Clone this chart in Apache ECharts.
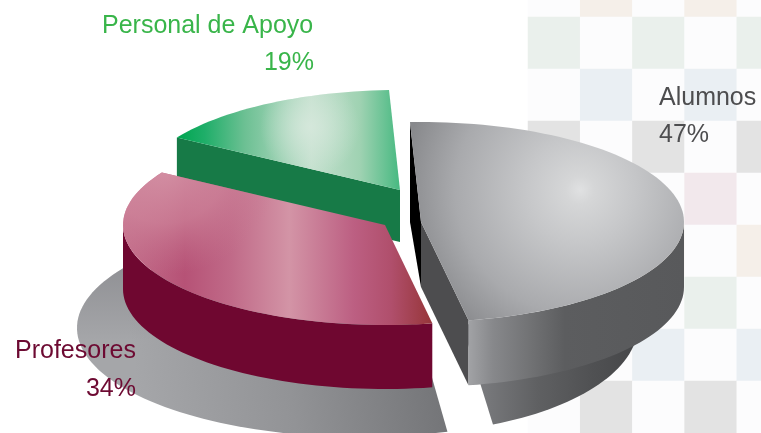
<!DOCTYPE html>
<html>
<head>
<meta charset="utf-8">
<style>html,body{margin:0;padding:0;background:#fff;}#main{width:761px;height:433px;}</style>
<script src="https://cdn.jsdelivr.net/npm/echarts@6/dist/echarts.min.js"></script>
</head>
<body>
<div id="main"></div>
<script>
//categorias y porcentajes impresos
var categories = ["Alumnos", "Profesores", "Personal de Apoyo"];
var percents = [47, 34, 19];
//angulo que ocupa cada sector en el dibujo (leido de la imagen, no es proporcional al porcentaje impreso)
var drawnSweeps = [172, 132, 56];
//fondo de cuadros: una letra por celda
var tileRows = [
	".p.p.",
	"g.g.g",
	".b.b.",
	"k.k.k",
	".r.r.",
	"p.p.p",
	".g.g.",
	"b.b.b",
	".k.k."
];

var tileColors = {".": "#fcfcfd", p: "#f5efe9", g: "#eaf0ec", b: "#eaeff3", k: "#e3e3e3", r: "#f2e8ec"};
var startAngle = -92.4;
var LG = echarts.graphic.LinearGradient;
var RG = echarts.graphic.RadialGradient;

function stops(list) {
	return list.map(function(s) {
		return {offset: s[0], color: s[1]};
	});
}
function ring(e, t1, t2, dy) {
	var pts = [];
	var n = Math.max(2, Math.ceil(Math.abs(t2 - t1) / 2));
	for (var i = 0; i <= n; i++) {
		var t = (t1 + (t2 - t1) * i / n) * Math.PI / 180;
		pts.push([e.cx + e.a * Math.cos(t), e.cy + e.b * Math.sin(t) + (dy || 0)]);
	}
	return pts;
}
function poly(points, fill, z2) {
	return {type: "polygon", z2: z2, shape: {points: points}, style: {fill: fill}};
}
function label(x, y, str, align, color, z2) {
	return {type: "text", z2: z2, x: x, y: y, style: {text: str, fill: color, align: align, verticalAlign: "middle", font: '25px "Liberation Sans"'}};
}

//posicion, relieve y color de cada sector
var sliceStyle = [
	{
		cx: 421, cy: 222, a: 263, b: 100, depth: 65, z2: 3,
		top: [new RG(580, 190, 178, stops([[0, "#e0e1e2"], [0.08, "#d5d6d7"], [0.3, "#c6c7c9"], [0.7, "#a9aaad"], [1, "#88898c"]]), true)],
		side: new LG(467, 0, 684, 0, stops([[0, "#a3a4a7"], [0.12, "#87888b"], [0.3, "#707173"], [0.45, "#5c5d5f"], [1, "#58595b"]]), true),
		startFace: "#000000", endFace: "#4d4d4f", backDrop: 100,
		text: [[659, 98.5, "left"], [659, 135.5, "left"]], color: "#4d4d4f"
	},
	{
		cx: 385, cy: 225, a: 262, b: 100, depth: 64, z2: 2,
		top: [
			new LG(123, 0, 431, 0, stops([[0, "#c4708c"], [0.2, "#b65276"], [0.35, "#c06a88"], [0.54, "#d394a6"], [0.75, "#bc5f82"], [0.87, "#b04f6c"], [1, "#97363a"]]), true),
			new RG(165, 160, 115, stops([[0, "rgba(214,150,168,0.95)"], [0.55, "rgba(210,140,160,0.6)"], [1, "rgba(200,120,145,0)"]]), true)
		],
		side: "#6f0730",
		text: [[15, 351, "left"], [136, 389.5, "right"]], color: "#6d0a32"
	},
	{
		cx: 400, cy: 190, a: 262, b: 100, depth: 52, z2: 1,
		top: [
			new LG(178, 0, 400, 0, stops([[0, "#00a651"], [0.12, "#1fae69"], [0.3, "#6cc093"], [0.6, "#c4e0ce"], [0.82, "#9fd2b2"], [1, "#47b981"]]), true),
			new RG(310, 127, 50, stops([[0, "rgba(214,232,220,0.9)"], [1, "rgba(214,232,220,0)"]]), true)
		],
		side: "#177a47", startFace: "#177a47", endFace: null, backDrop: 52,
		text: [[102, 26, "left"], [314, 63, "right"]], color: "#39b54a"
	}
];

function renderSlice(params, api) {
	var i = params.dataIndex;
	var e = sliceStyle[i];
	var t1 = startAngle;
	for (var k = 0; k < i; k++) t1 += drawnSweeps[k];
	var t2 = t1 + api.value(0);
	var c = [e.cx, e.cy];
	var arc = ring(e, t1, t2, 0);
	var first = arc[0], last = arc[arc.length - 1];
	var kids = [];
	//cara radial inicial
	if (e.startFace) {
		kids.push(poly([first, c, [c[0], c[1] + e.depth], [first[0], first[1] + e.backDrop]], e.startFace, e.z2));
	}
	//cara radial final
	if (e.endFace) {
		kids.push(poly([c, last, [last[0], last[1] + e.depth], [c[0], c[1] + e.depth]], e.endFace, e.z2));
	}
	//pared exterior visible
	var a1 = Math.max(t1, 0), a2 = Math.min(t2, 180);
	if (a2 > a1) {
		var upper = ring(e, a1, a2, 0);
		var lower = ring(e, a1, a2, e.depth).reverse();
		kids.push(poly(upper.concat(lower), e.side, e.z2));
	}
	//tapa
	var lid = [c].concat(arc);
	e.top.forEach(function(f) {
		kids.push(poly(lid, f, e.z2));
	});
	kids.push(label(e.text[0][0], e.text[0][1], api.value(1), e.text[0][2], e.color, 9));
	kids.push(label(e.text[1][0], e.text[1][1], api.value(2) + "%", e.text[1][2], e.color, 9));
	return {type: "group", children: kids};
}

//sombras sobre el piso
function renderShadows() {
	var big = {cx: 360, cy: 328, a: 283, b: 109};
	var small = {cx: 400, cy: 325, a: 238, b: 108};
	var bigShape = [[417, 325]].concat(ring(big, 72, 215, 0));
	return {
		type: "group",
		children: [
			poly(bigShape, new LG(140, 410, 440, 370, stops([[0, "#a5a6a9"], [0.5, "#929396"], [1, "#747578"]]), true), 0),
			poly(bigShape, new LG(0, 260, 0, 340, stops([[0, "rgba(120,120,125,0.5)"], [1, "rgba(120,120,125,0)"]]), true), 0),
			poly([[462, 325]].concat(ring(small, -10, 67, 0)),
				new LG(484, 0, 638, 0, stops([[0, "#78797c"], [0.35, "#5f6062"], [0.7, "#505153"], [1, "#454648"]]), true), 0)
		]
	};
}

var tileData = [];
tileRows.forEach(function(row, r) {
	row.split("").forEach(function(ch, col) {
		tileData.push({value: [col, r, 1], itemStyle: {color: tileColors[ch]}});
	});
});

var sliceData = categories.map(function(name, i) {
	return [drawnSweeps[i], name, percents[i]];
});

var myChart = echarts.init(document.getElementById("main"));
var option = {
	animation: false,
	backgroundColor: "#ffffff",
	grid: {left: 528, top: -35, width: 261, height: 468, outerBoundsMode: "none"},
	xAxis: {type: "category", show: false, data: [0, 1, 2, 3, 4]},
	yAxis: {type: "category", show: false, inverse: true, data: tileRows.map(function(r, i) { return i; })},
	series: [
		{type: "heatmap", data: tileData, z: 1, silent: true},
		{type: "custom", coordinateSystem: "none", renderItem: renderShadows, data: [0], z: 2, silent: true},
		{
			type: "custom",
			coordinateSystem: "none",
			renderItem: renderSlice,
			data: sliceData,
			dimensions: ["sweep", {name: "name", type: "ordinal"}, "pct"],
			encode: {value: 0},
			z: 3,
			silent: true
		}
	]
};
myChart.setOption(option);
</script>
</body>
</html>
